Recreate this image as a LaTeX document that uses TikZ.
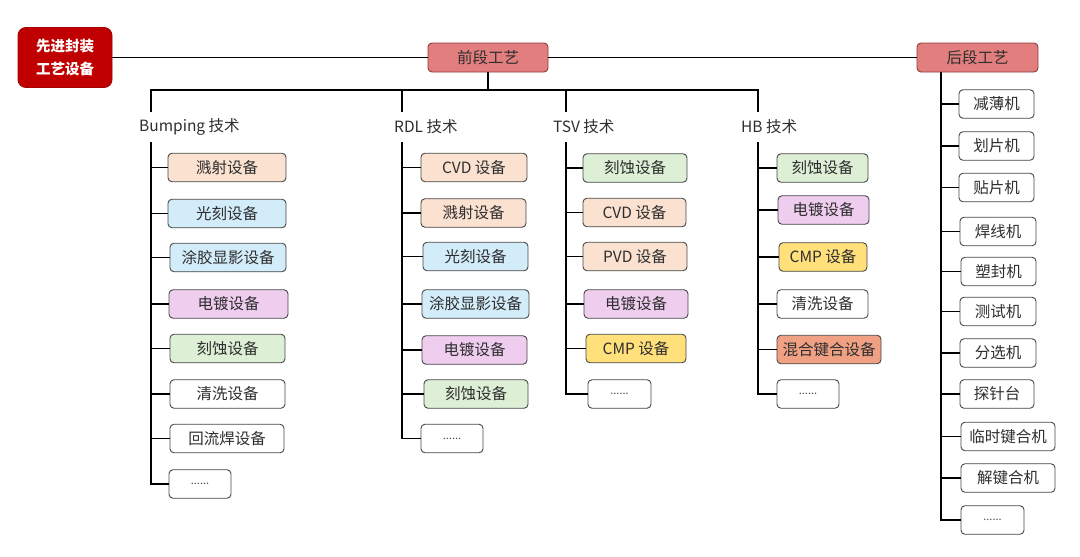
\documentclass[tikz,border=0pt]{standalone}
\usepackage{fontspec}
\setmainfont{Noto Sans CJK SC}
\definecolor{peach}{HTML}{FBE1D0}
\definecolor{lblue}{HTML}{D3ECFA}
\definecolor{lpink}{HTML}{EFCDEF}
\definecolor{lgreen}{HTML}{DDF0D6}
\definecolor{lyellow}{HTML}{FFE07A}
\definecolor{lorange}{HTML}{F0A083}
\definecolor{phase}{HTML}{E27E7E}
\definecolor{phaseborder}{HTML}{8C3C3C}
\definecolor{rootred}{HTML}{C00000}
\definecolor{txt}{HTML}{2E2E2E}
\tikzset{
  conn/.style={line width=1.8pt, black},
  item/.style={draw=black!72, line width=0.9pt, rounded corners=4pt, inner sep=0pt,
    minimum height=28.5pt, text=txt, font=\fontsize{15.5}{18}\selectfont},
  dots/.style={item, fill=white, font=\fontsize{11}{13}\selectfont, text=black!70},
  lab/.style={anchor=west, inner sep=0pt, text=txt, font=\fontsize{15.5}{18}\selectfont},
  phasebox/.style={draw=phaseborder, fill=phase, line width=0.9pt, rounded corners=4pt,
    inner sep=0pt, minimum height=29pt, minimum width=121pt, text=txt,
    font=\fontsize{15.5}{18}\selectfont},
}
\begin{document}
\begin{tikzpicture}[x=1pt,y=-1pt]
\useasboundingbox (0,0) rectangle (1080,557);
% top level
\node[draw=rootred!85!black, fill=rootred, rounded corners=8pt, line width=0.9pt,
      minimum width=94pt, minimum height=60pt, inner sep=0pt, text=white,
      font=\bfseries\fontsize{14.5}{23}\selectfont, align=center] (r) at (65,57.5) {先进封装\\工艺设备};
\node[phasebox, minimum width=120pt] (fe) at (488,57.5) {前段工艺};
\node[phasebox] (be) at (977.5,57.5) {后段工艺};
\draw[conn] (r.east) -- (fe.west);
\draw[conn] (fe.east) -- (be.west);

% technology labels
\node[lab] (bl) at (139,127) {Bumping 技术};
\node[lab] (rl) at (394,127) {RDL 技术};
\node[lab] (tl) at (553,127) {TSV 技术};
\node[lab] (hl) at (741,127) {HB 技术};

\coordinate (bar) at (488,90);
\coordinate (bs) at (151,112);
\coordinate (rs) at (402,112);
\coordinate (ts) at (566,112);
\coordinate (hs) at (758,112);
\draw[conn] (fe.south) -- (bar);
\draw[conn] (bs) |- (bar) -| (hs);
\draw[conn] (rs) -- (rs |- bar);
\draw[conn] (ts) -- (ts |- bar);

\coordinate (bt) at (151,142);
\coordinate (rt) at (402,142);
\coordinate (tt) at (566,142);
\coordinate (ht) at (758,142);

% Bumping
\node[item, fill=peach, minimum width=118pt] (b1) at (227,167.5) {溅射设备};
\node[item, fill=lblue, minimum width=118pt] (b2) at (227,213.5) {光刻设备};
\node[item, fill=lblue, minimum width=116pt] (b3) at (228,257.5) {涂胶显影设备};
\node[item, fill=lpink, minimum width=119pt] (b4) at (228.5,304) {电镀设备};
\node[item, fill=lgreen, minimum width=115pt] (b5) at (227.5,348.5) {刻蚀设备};
\node[item, fill=white, minimum width=115pt] (b6) at (227.5,394) {清洗设备};
\node[item, fill=white, minimum width=114pt] (b7) at (227,438.5) {回流焊设备};
\node[dots, minimum width=62pt] (b8) at (200,484) {......};
\draw[conn] (bt) |- (b8.west);
\foreach \n in {b1,b2,b3,b4,b5,b6,b7} \draw[conn] (\n.west) -- (\n.west -| bt);

% RDL
\node[item, fill=peach, minimum width=106pt] (r1) at (474,167.5) {CVD 设备};
\node[item, fill=peach, minimum width=105pt] (r2) at (473.5,213) {溅射设备};
\node[item, fill=lblue, minimum width=105pt] (r3) at (475.5,256.5) {光刻设备};
\node[item, fill=lblue, minimum width=107pt] (r4) at (475.5,304) {涂胶显影设备};
\node[item, fill=lpink, minimum width=105pt] (r5) at (474.5,350) {电镀设备};
\node[item, fill=lgreen, minimum width=104pt] (r6) at (476,394) {刻蚀设备};
\node[dots, minimum width=62pt] (r7) at (452,438.5) {......};
\draw[conn] (rt) |- (r7.west);
\foreach \n in {r1,r2,r3,r4,r5,r6} \draw[conn] (\n.west) -- (\n.west -| rt);

% TSV
\node[item, fill=lgreen, minimum width=104pt] (t1) at (635,168) {刻蚀设备};
\node[item, fill=peach, minimum width=103pt] (t2) at (634.5,212.5) {CVD 设备};
\node[item, fill=peach, minimum width=104pt] (t3) at (635,256.5) {PVD 设备};
\node[item, fill=lpink, minimum width=104pt] (t4) at (636,304) {电镀设备};
\node[item, fill=lyellow, minimum width=100pt] (t5) at (636,348.5) {CMP 设备};
\node[dots, minimum width=63pt] (t6) at (619.5,394) {......};
\draw[conn] (tt) |- (t6.west);
\foreach \n in {t1,t2,t3,t4,t5} \draw[conn] (\n.west) -- (\n.west -| tt);

% HB
\node[item, fill=lgreen, minimum width=91pt] (h1) at (822.5,168) {刻蚀设备};
\node[item, fill=lpink, minimum width=91pt] (h2) at (823.5,210) {电镀设备};
\node[item, fill=lyellow, minimum width=88pt] (h3) at (823,257) {CMP 设备};
\node[item, fill=white, minimum width=91pt] (h4) at (822.5,304) {清洗设备};
\node[item, fill=lorange, minimum width=104pt] (h5) at (829,349.5) {混合键合设备};
\node[dots, minimum width=62pt] (h6) at (808,394) {......};
\draw[conn] (ht) |- (h6.west);
\foreach \n in {h1,h2,h3,h4,h5} \draw[conn] (\n.west) -- (\n.west -| ht);

% back end
\node[item, fill=white, minimum width=75pt] (e1) at (996.5,104) {减薄机};
\node[item, fill=white, minimum width=75pt] (e2) at (996.5,146) {划片机};
\node[item, fill=white, minimum width=75pt] (e3) at (996.5,187.5) {贴片机};
\node[item, fill=white, minimum width=76pt] (e4) at (998,231.5) {焊线机};
\node[item, fill=white, minimum width=75pt] (e5) at (998.5,271.5) {塑封机};
\node[item, fill=white, minimum width=76pt] (e6) at (998,311.5) {测试机};
\node[item, fill=white, minimum width=76pt] (e7) at (998,353) {分选机};
\node[item, fill=white, minimum width=74pt] (e8) at (997,394) {探针台};
\node[item, fill=white, minimum width=94pt] (e9) at (1008,436.5) {临时键合机};
\node[item, fill=white, minimum width=94pt] (e10) at (1008,478) {解键合机};
\node[dots, minimum width=63pt] (e11) at (992.5,520) {......};
\path (be.south) ++(-36.5,0) coordinate (et);
\draw[conn] (et) |- (e11.west);
\foreach \n in {e1,e2,e3,e4,e5,e6,e7,e8,e9,e10} \draw[conn] (\n.west) -- (\n.west -| et);
\end{tikzpicture}
\end{document}
